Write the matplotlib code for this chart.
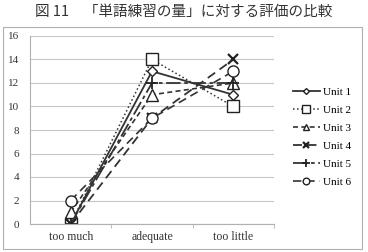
import matplotlib
matplotlib.use("Agg")
import matplotlib.pyplot as plt
from matplotlib.patches import Rectangle

plt.rcParams['font.family'] = ['Liberation Serif', 'DejaVu Serif']

categories = ['too much', 'adequate', 'too little']
units = ['Unit 1', 'Unit 2', 'Unit 3', 'Unit 4', 'Unit 5', 'Unit 6']
unit1 = [0, 13, 11]
unit2 = [0, 14, 10]
unit3 = [1, 11, 12]
unit4 = [0, 9, 14]
unit5 = [0, 12, 12]
unit6 = [2, 9, 13]
series = [unit1, unit2, unit3, unit4, unit5, unit6]

styles = [
    dict(ls='-', marker='D', ms=5, lw=1.3),
    dict(ls=':', marker='s', ms=9, lw=1.1),
    dict(ls=(0, (3, 2)), marker='^', ms=8, lw=1.2),
    dict(ls=(0, (5, 3)), marker='x', ms=7, lw=1.3, mew=1.6),
    dict(ls=(0, (8, 2, 2, 2)), marker='+', ms=9, lw=1.3, mew=1.3),
    dict(ls=(0, (5, 3)), marker='o', ms=8, lw=1.2),
]

fig = plt.figure(figsize=(3.68, 2.52), dpi=100)
fig.patches.append(Rectangle((3 / 368, 3 / 252), 359 / 368, 222 / 252,
                             transform=fig.transFigure, fill=False,
                             edgecolor='#b0b0b0', lw=0.8))
fig.text(0.5, 0.952, '図 11\u3000「単語練習の量」に対する評価の比較',
         ha='center', va='center', fontsize=10.5, color='#333333',
         family=['Noto Sans CJK JP', 'DejaVu Sans'])

ax = fig.add_axes([30 / 368, 28 / 252, 244 / 368, 188 / 252])
x = range(len(categories))
for name, vals, st in zip(units, series, styles):
    ax.plot(x, vals, color='#333333', mfc='white', mec='#222222',
            label=name, **st)

ax.set_xlim(-0.5, 2.5)
ax.set_ylim(0, 16)
ax.set_yticks(range(0, 17, 2))
ax.set_xticks(list(x))
ax.set_xticklabels(categories)
ax.set_xticks([0.5, 1.5, 2.5], minor=True)
ax.tick_params(axis='x', which='major', length=0, labelsize=8.5, colors='#333333', pad=5)
ax.tick_params(axis='x', which='minor', length=3, color='#b0b0b0')
ax.tick_params(axis='y', length=0, labelsize=8, colors='#333333', pad=8)
ax.grid(axis='y', color='#c8c8c8', lw=0.8)
ax.set_axisbelow(True)
for s in ['top', 'right']:
    ax.spines[s].set_visible(False)
ax.spines['left'].set_color('#b0b0b0')
ax.spines['bottom'].set_color('#b0b0b0')

ax.legend(loc='center left', bbox_to_anchor=(1.06, 0.463), frameon=False,
          fontsize=8, numpoints=1, markerscale=0.6, handlelength=2.4,
          handletextpad=0.3, labelspacing=0.75, borderaxespad=0)

fig.savefig('out.png', dpi=100)
